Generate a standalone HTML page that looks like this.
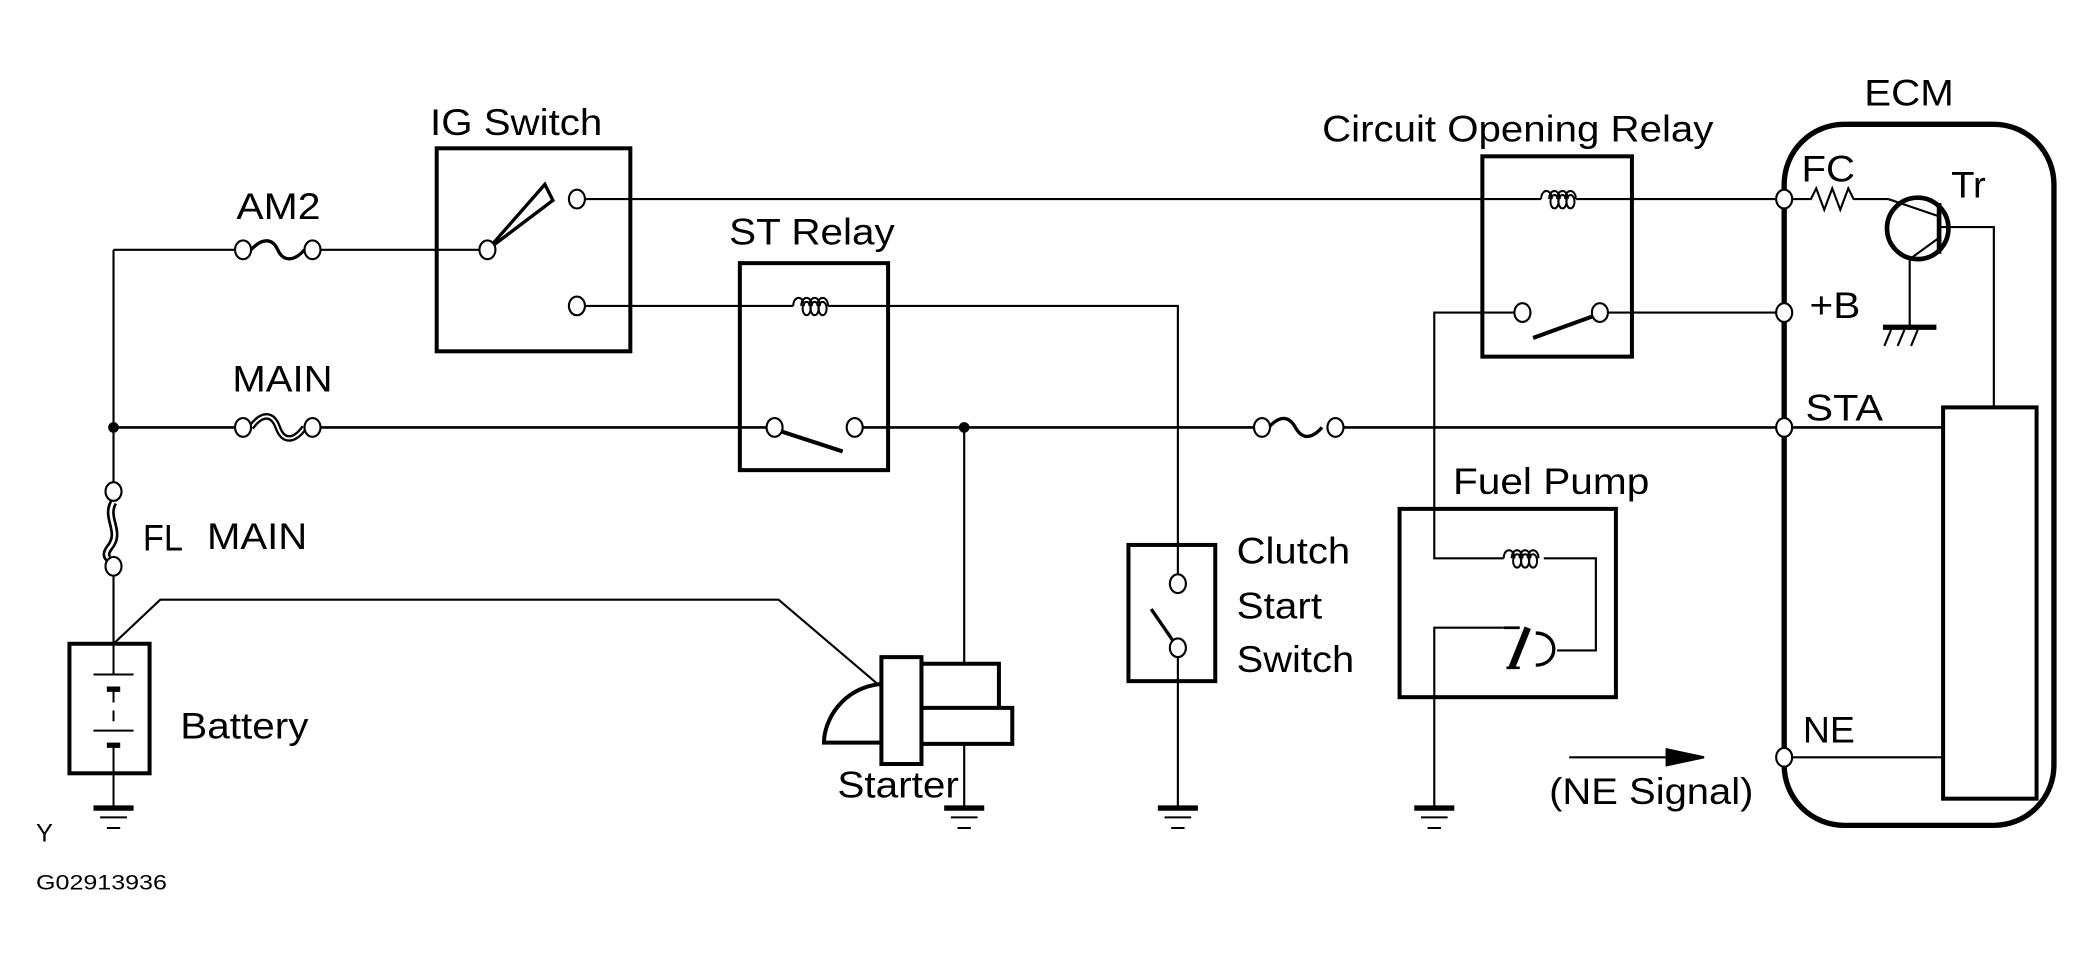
<!DOCTYPE html>
<html><head><meta charset="utf-8"><style>html,body{margin:0;padding:0;background:#fff}svg{display:block}text{font-family:"Liberation Sans",sans-serif;fill:#000}</style></head><body>
<svg width="2094" height="959" viewBox="0 0 1568 718" xmlns="http://www.w3.org/2000/svg">
<g fill="none" stroke="#000" stroke-width="1.6">
<path d="M85 187V362M85 430V482"/>
<path d="M85 187H176M240 187H359"/>
<path d="M188 187 C196 178 204 178 208 187 S220 196 228 187" stroke-width="2.5"/>
<path d="M85 320H176M240 320H574M646 320H939M1006 320H1330" stroke-width="2"/>
<path d="M188 320 C196 309 204 309 208 320 S220 331 228 320" stroke-width="5"/>
<path d="M188 320 C196 309 204 309 208 320 S220 331 228 320" stroke="#fff" stroke-width="1.5"/>
<path d="M950 320 C958 311 965 311 970 320 S982 329 990 320" stroke-width="2.5"/>
<rect x="327" y="111" width="145" height="152" stroke-width="3"/>
<path d="M365 187 L408 138 L414 150 Z" stroke-width="2.5"/>
<path d="M437 149H1154M1180 149H1330"/>
<path d="M437 229H594M620 229H882V437M882 491V605"/>
<rect x="554" y="197" width="111" height="155" stroke-width="3"/>
<path d="M585 323 L631 338" stroke-width="3"/>
<g stroke-width="1.5">
<path d="M594 229 c0-8 8-8 8 0 M600 229 c0-8 8-8 8 0 M606 229 c0-8 8-8 8 0 M612 229 c0-8 8-8 8 0"/>
<ellipse cx="604" cy="231" rx="3" ry="5"/><ellipse cx="610" cy="231" rx="3" ry="5"/><ellipse cx="616" cy="231" rx="3" ry="5"/>
<path d="M1154 149 c0-8 8-8 8 0 M1160 149 c0-8 8-8 8 0 M1166 149 c0-8 8-8 8 0 M1172 149 c0-8 8-8 8 0"/>
<ellipse cx="1164" cy="151" rx="3" ry="5"/><ellipse cx="1170" cy="151" rx="3" ry="5"/><ellipse cx="1176" cy="151" rx="3" ry="5"/>
<path d="M1126 418 c0-8 8-8 8 0 M1132 418 c0-8 8-8 8 0 M1138 418 c0-8 8-8 8 0 M1144 418 c0-8 8-8 8 0"/>
<ellipse cx="1136" cy="420" rx="3" ry="5"/><ellipse cx="1142" cy="420" rx="3" ry="5"/><ellipse cx="1148" cy="420" rx="3" ry="5"/>
</g>
<path d="M722 320V497M722 557V605"/>
<path d="M85 376 C78 388 92 398 82 410 C76 418 84 420 85 418" stroke-width="6"/>
<path d="M85 376 C78 388 92 398 82 410 C76 418 84 420 85 418" stroke="#fff" stroke-width="2"/>
<rect x="52" y="482" width="60" height="97" stroke-width="3"/>
<path d="M85 482V505M70 505H100M85 516V526M85 532V540M70 547H100M85 558V605" stroke-width="1.5"/>
<path d="M80 516H90M80 558H90" stroke-width="4"/>
<path d="M85 482 L120 449 H583 L657 512"/>
<path d="M660 492H690V572H660Z" stroke-width="3"/>
<path d="M690 497H748V530M690 530H758V557H690" stroke-width="3"/>
<path d="M660 512 C630 515 617 540 617 556 H660" stroke-width="3"/>
<rect x="845" y="408" width="65" height="102" stroke-width="3"/>
<path d="M882 485 L862 456" stroke-width="2.5"/>
<rect x="1110" y="117" width="112" height="150" stroke-width="3"/>
<path d="M1148 253 L1192 237" stroke-width="3"/>
<path d="M1204 234H1330M1134 234H1074V418H1126M1156 418H1195V487H1166M1126 470H1074V605"/>
<rect x="1048" y="381" width="162" height="141" stroke-width="3"/>
<path d="M1132 500 L1144 470" stroke-width="5"/>
<path d="M1126 470H1138M1138 500H1128" stroke-width="2"/>
<path d="M1150 474 C1168 474 1168 498 1150 498" stroke-width="2.5"/>
<rect x="1336" y="93" width="202" height="525" rx="45" stroke-width="4"/>
<path d="M1336 149H1356 l4 -8 l6 16 l6 -16 l6 16 l6 -16 l4 8 H1414"/>
<circle cx="1436" cy="171" r="23" stroke-width="3.5"/>
<path d="M1452 152V190" stroke-width="3.5"/>
<path d="M1414 149 L1452 162M1452 178 L1430 194V245M1452 170H1493V305"/>
<path d="M1410 245H1450" stroke-width="4"/>
<path d="M1416 247 l-5 12 M1426 247 l-5 12 M1436 247 l-5 12"/>
<rect x="1455" y="305" width="70" height="293" stroke-width="3"/>
<path d="M1336 320H1455" stroke-width="2"/>
<path d="M1336 567H1455M1175 567H1255"/>
<path d="M1248 561 L1276 567 L1248 573Z" fill="#000"/>
</g>
<g fill="#fff" stroke="#000" stroke-width="1.6">
<ellipse cx="182" cy="187" rx="6" ry="7"/><ellipse cx="234" cy="187" rx="6" ry="7"/>
<ellipse cx="182" cy="320" rx="6" ry="7"/><ellipse cx="234" cy="320" rx="6" ry="7"/>
<ellipse cx="945" cy="320" rx="6" ry="7"/><ellipse cx="1000" cy="320" rx="6" ry="7"/>
<ellipse cx="365" cy="187" rx="6" ry="7"/><ellipse cx="432" cy="149" rx="6" ry="7"/><ellipse cx="432" cy="229" rx="6" ry="7"/>
<ellipse cx="580" cy="320" rx="6" ry="7"/><ellipse cx="640" cy="320" rx="6" ry="7"/>
<ellipse cx="85" cy="368" rx="6" ry="7"/><ellipse cx="85" cy="424" rx="6" ry="7"/>
<ellipse cx="882" cy="437" rx="6" ry="7"/><ellipse cx="882" cy="485" rx="6" ry="7"/>
<ellipse cx="1140" cy="234" rx="6" ry="7"/><ellipse cx="1198" cy="234" rx="6" ry="7"/>
<ellipse cx="1336" cy="149" rx="6" ry="7"/><ellipse cx="1336" cy="234" rx="6" ry="7"/><ellipse cx="1336" cy="320" rx="6" ry="7"/><ellipse cx="1336" cy="567" rx="6" ry="7"/>
</g>
<circle cx="85" cy="320" r="4"/><circle cx="722" cy="320" r="4"/>
<g stroke="#000" fill="none">
<path d="M70 605H100" stroke-width="4"/><path d="M75 612H95M80 620H90" stroke-width="1.5"/>
<path d="M707 605H737" stroke-width="4"/><path d="M712 612H732M717 620H727" stroke-width="1.5"/>
<path d="M867 605H897" stroke-width="4"/><path d="M872 612H892M877 620H887" stroke-width="1.5"/>
<path d="M1059 605H1089" stroke-width="4"/><path d="M1064 612H1084M1069 620H1079" stroke-width="1.5"/>
</g>
<g font-size="28" lengthAdjust="spacingAndGlyphs">
<text x="177" y="164" textLength="63" lengthAdjust="spacingAndGlyphs">AM2</text>
<text x="322" y="101" textLength="129" lengthAdjust="spacingAndGlyphs">IG Switch</text>
<text x="546" y="183" textLength="124" lengthAdjust="spacingAndGlyphs">ST Relay</text>
<text x="174" y="293" textLength="75" lengthAdjust="spacingAndGlyphs">MAIN</text>
<text x="107" y="412" textLength="30" lengthAdjust="spacingAndGlyphs">FL</text>
<text x="155" y="411" textLength="75" lengthAdjust="spacingAndGlyphs">MAIN</text>
<text x="135" y="553" textLength="96" lengthAdjust="spacingAndGlyphs">Battery</text>
<text x="627" y="597" textLength="91" lengthAdjust="spacingAndGlyphs">Starter</text>
<text x="926" y="422" textLength="85" lengthAdjust="spacingAndGlyphs">Clutch</text>
<text x="926" y="463" textLength="64" lengthAdjust="spacingAndGlyphs">Start</text>
<text x="926" y="503" textLength="88" lengthAdjust="spacingAndGlyphs">Switch</text>
<text x="990" y="106" textLength="293" lengthAdjust="spacingAndGlyphs">Circuit Opening Relay</text>
<text x="1088" y="370" textLength="147" lengthAdjust="spacingAndGlyphs">Fuel Pump</text>
<text x="1160" y="602" textLength="153" lengthAdjust="spacingAndGlyphs">(NE Signal)</text>
<text x="1396" y="79" textLength="67" lengthAdjust="spacingAndGlyphs">ECM</text>
<text x="1349" y="136" textLength="40" lengthAdjust="spacingAndGlyphs">FC</text>
<text x="1461" y="148" textLength="26" lengthAdjust="spacingAndGlyphs">Tr</text>
<text x="1355" y="238" textLength="38" lengthAdjust="spacingAndGlyphs">+B</text>
<text x="1352" y="315" textLength="58" lengthAdjust="spacingAndGlyphs">STA</text>
<text x="1350" y="556" textLength="39" lengthAdjust="spacingAndGlyphs">NE</text>
</g>
<text x="27" y="630" font-size="19">Y</text>
<text x="27" y="666" font-size="16" textLength="98" lengthAdjust="spacingAndGlyphs">G02913936</text>
</svg>
</body></html>
